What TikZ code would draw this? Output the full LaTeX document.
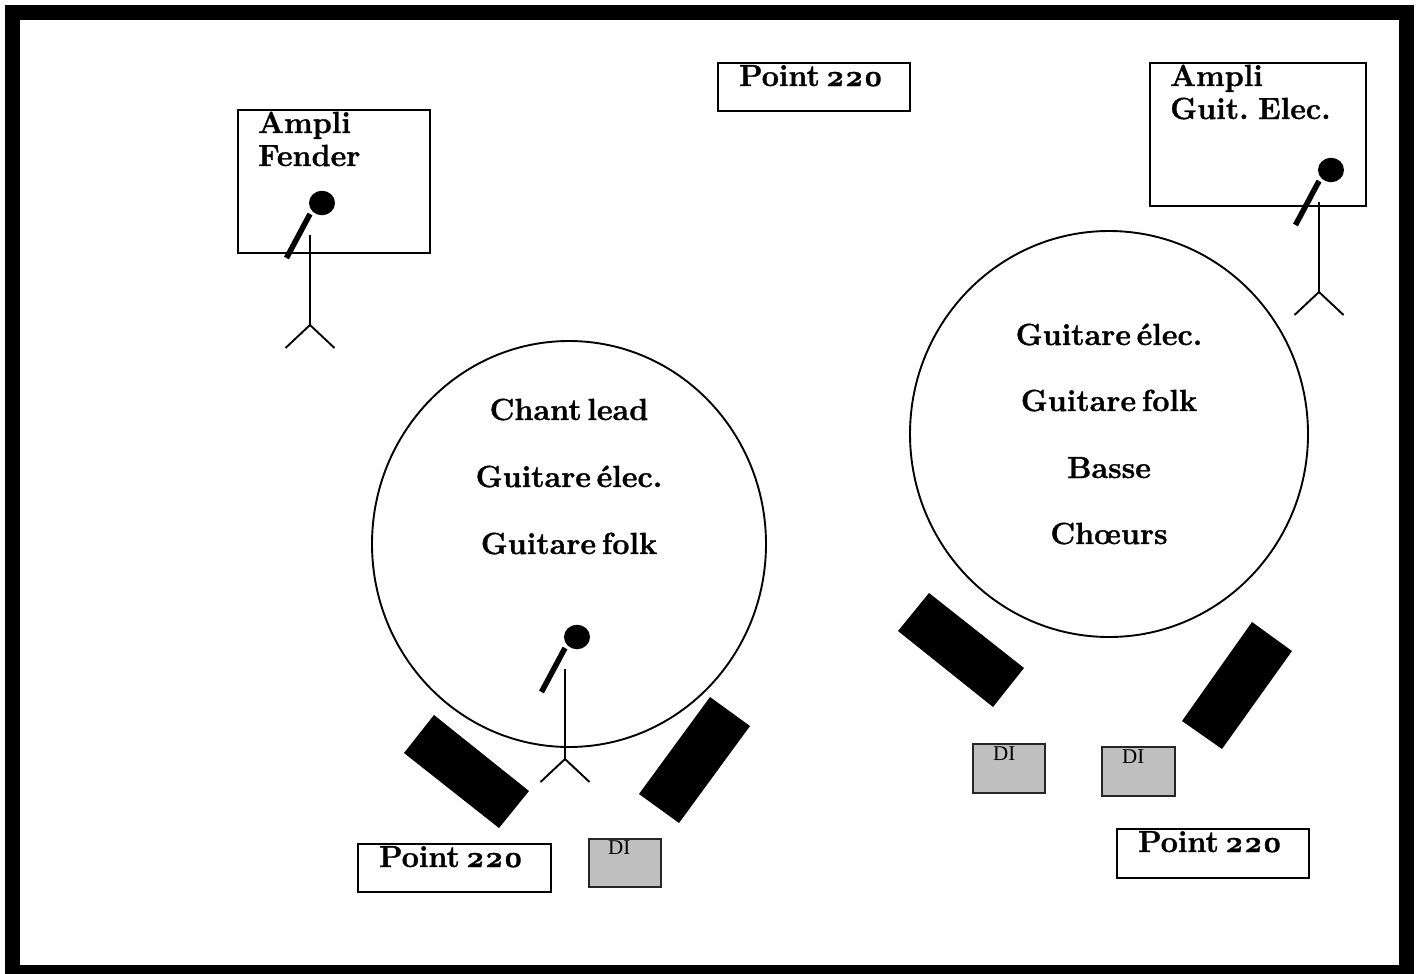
\documentclass[tikz,border=0pt]{standalone}
\usepackage{fontspec}
\setmainfont{Latin Modern Roman}[Numbers=OldStyle,BoldFeatures={FakeBold=1.1,WordSpace=0.5}]
\newfontfamily\difont{Liberation Serif}
\tikzset{
  box/.style={draw=black,line width=1.9pt,fill=white},
  greybox/.style={draw=black!85,line width=2pt,fill=black!25},
  ring/.style={draw=black,line width=1.9pt,fill=white},
  lab/.style={inner sep=0pt,font=\fontsize{30.5}{34}\selectfont\bfseries,text=black},
  dilab/.style={inner sep=0pt,font=\difont\fontsize{21}{24}\selectfont,text=black},
  stand/.style={draw=black,line width=1.9pt},
  stem/.style={draw=black,line width=5.5pt},
  cabinet/.style={fill=black,draw=none},
}
\newcommand{\micstand}[3]{%
  \coordinate (#1top) at (#2,#3);
  \coordinate (#1foot) at (#2,#3+90);
  \coordinate (#1l) at (#2-24.5,#3+113);
  \coordinate (#1r) at (#2+24.5,#3+113);
  \coordinate (#1sa) at (#2,#3-21);
  \coordinate (#1sb) at (#2-23.5,#3+23);
  \node[fill=black,ellipse,inner sep=0pt,minimum width=26pt,minimum height=24.5pt] (#1head) at (#2+12,#3-32) {};
  \draw[stem] (#1sa) -- (#1sb);
  \draw[stand] (#1top) -- (#1foot) (#1l) -- (#1foot) -- (#1r);
}
\usetikzlibrary{shapes.geometric}
\begin{document}
\begin{tikzpicture}[x=1pt,y=-1pt]
\useasboundingbox (0,0) rectangle (1419,974);
% frame
\fill[black] (5,5) rectangle (1414,974);
\fill[white] (20,20) rectangle (1399,965);
% boxes
\draw[box] (238,110) rectangle (430,253);
\draw[box] (718,63) rectangle (910,111);
\draw[box] (1150,63) rectangle (1366,206);
\draw[box] (358,844) rectangle (551,892);
\draw[box] (1117,829) rectangle (1309,878);
\draw[greybox] (589,839) rectangle (661,887);
\draw[greybox] (973,744) rectangle (1045,793);
\draw[greybox] (1102,747) rectangle (1175,796);
% circles
\draw[ring] (569,544) ellipse [x radius=197,y radius=203];
\draw[ring] (1109,434) ellipse [x radius=199,y radius=203];
% cabinets
\fill[cabinet] (434,715) -- (529,791) -- (499,828) -- (404,753) -- cycle;
\fill[cabinet] (710,697) -- (750,726) -- (679,823) -- (639,794) -- cycle;
\fill[cabinet] (929,593) -- (1024,668) -- (993,707) -- (898,631) -- cycle;
\fill[cabinet] (1252,622) -- (1292,651) -- (1222,749) -- (1182,721) -- cycle;
% microphones
\micstand{a}{310}{235}
\micstand{b}{565}{669}
\micstand{c}{1319}{202}
% labels
\node[lab,anchor=base west] (t1) at (258,133) {Ampli};
\node[lab,anchor=base west] (t2) at (258,166) {Fender};
\node[lab,anchor=base west] (t3) at (739,86) {Point 220};
\node[lab,anchor=base west] (t4) at (1170,86) {Ampli};
\node[lab,anchor=base west] (t5) at (1170,119) {Guit. Elec.};
\node[lab,anchor=base west] (t6) at (379,867) {Point 220};
\node[lab,anchor=base west] (t7) at (1138,852) {Point 220};
\node[lab,anchor=base] (t8) at (569,420) {Chant lead};
\node[lab,anchor=base] (t9) at (569,487) {Guitare élec.};
\node[lab,anchor=base] (t10) at (569,554) {Guitare folk};
\node[lab,anchor=base] (t11) at (1109,345) {Guitare élec.};
\node[lab,anchor=base] (t12) at (1109,411) {Guitare folk};
\node[lab,anchor=base] (t13) at (1109,478) {Basse};
\node[lab,anchor=base] (t14) at (1109,544) {Chœurs};
\node[dilab,anchor=base west] (d1) at (608,854) {DI};
\node[dilab,anchor=base west] (d2) at (993,760) {DI};
\node[dilab,anchor=base west] (d3) at (1122,763) {DI};
\end{tikzpicture}
\end{document}
